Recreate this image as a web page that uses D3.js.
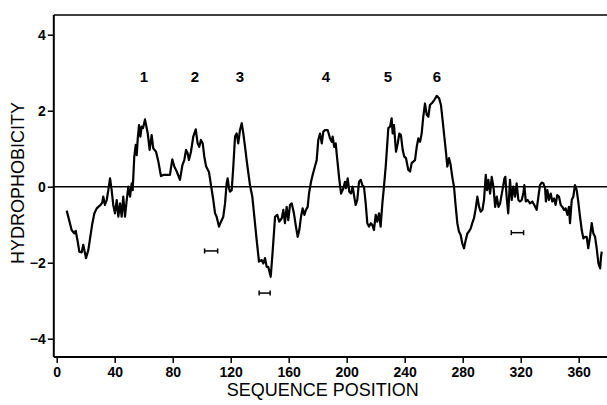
<!DOCTYPE html>
<html>
<head>
<meta charset="utf-8">
<script src="https://cdn.jsdelivr.net/npm/d3@7"></script>
<style>
  body { margin: 0; background: #fff; }
  text { font-family: "Liberation Sans", Arial, sans-serif; fill: #000; }
</style>
</head>
<body>
<div id="chart"></div>
<script>
(function() {
  var width = 607,
      height = 405;

  // sequence position and hydrophobicity
  var position = [6.9, 10.3, 12.1, 13.1, 14.5, 15.6, 17.2, 18.3, 20.2, 21.8, 24.6, 26, 27.6, 28.7, 30.3, 31.4, 32.1, 33.3, 34.5, 35.6,
    36.8, 37.9, 39, 40.2, 41.4, 42.5, 43.7, 44.8, 45.9, 47.1, 48.3, 49.4, 50.6, 51.7, 52.4, 53.5, 54.5, 55.2, 55.9, 56.8,
    57.7, 58.6, 59.5, 60.9, 62.8, 64.1, 65.5, 66.6, 68.5, 70.1, 71.9, 73.5, 75.9, 78.1, 79.7, 81.1, 82.8, 85, 86.7, 88,
    89.2, 90.3, 91.2, 92.6, 94.2, 95.9, 97.2, 98.3, 99.5, 100.7, 101.8, 103, 105, 106.4, 108, 109.2, 110.3, 111.9, 113.3, 114.9,
    116.1, 117.2, 117.9, 118.8, 119.5, 120.7, 121.8, 123, 124.1, 125.2, 126.4, 127.6, 128.7, 129.9, 131, 132.2, 133.3, 134.9, 136.3, 137.9,
    139.5, 141.4, 142.5, 143.7, 144.8, 145.9, 147.6, 149, 150.6, 152.1, 153.5, 155.2, 156.3, 157.4, 158.6, 159.7, 160.9, 162.1, 163.6, 165,
    166.2, 167.3, 168.5, 169.6, 170.8, 171.9, 173.1, 174, 175.4, 176.5, 178.1, 179.3, 180.4, 181.6, 182.8, 183.9, 185, 186.9, 188.5, 189.7,
    190.3, 191.4, 192.4, 193.3, 194.7, 196.1, 197.7, 198.8, 199.5, 200.7, 201.8, 203, 204.1, 205.2, 206.2, 207.3, 208.5, 209.7, 210.8, 211.9,
    213.1, 214.2, 215.4, 216.6, 217.7, 218.8, 220, 221.1, 222.3, 223.4, 224.6, 225.7, 226.9, 228, 228.7, 229.9, 231, 231.7, 232.6, 234,
    235.2, 236.3, 237.4, 238.6, 239.7, 240.9, 242.5, 243.7, 244.8, 245.9, 247.1, 248.3, 249.4, 250.6, 251.7, 252.8, 254, 255.2, 256.3, 257.4,
    259, 260.4, 262.1, 263.7, 265, 265.9, 267.1, 268.3, 269.4, 270.6, 271.7, 272.8, 274, 275.2, 276.3, 277.4, 278.6, 279.7, 280.9, 282.1,
    283.2, 284.3, 285.5, 286.6, 287.8, 289, 290.1, 291.3, 292.4, 293.6, 294.7, 295.9, 296.8, 297.7, 298.9, 300, 301.2, 302.4, 303.5, 304.7,
    305.8, 307.4, 308.8, 309.4, 310.3, 311.4, 312.6, 313.8, 314.9, 316.1, 317.2, 318.4, 319.5, 320.7, 321.8, 322.5, 323.5, 324.8, 326.4, 328,
    329.4, 331, 332.2, 333.3, 334.5, 335.6, 336.8, 337.4, 338.4, 339.5, 340.7, 341.8, 343, 344.1, 345.2, 346.4, 347.6, 348.7, 349.9, 351,
    352.2, 353.3, 354, 355.2, 356.3, 357.4, 358.6, 359.7, 360.9, 362.1, 363.2, 364.3, 365.5, 366.6, 367.8, 369, 370.1, 371.3, 372.4, 373.6,
    374.8, 375.4, 375.9];

  var hydro = [-0.63, -1.14, -1.23, -1.16, -1.45, -1.71, -1.73, -1.53, -1.88, -1.67, -0.96, -0.7, -0.57, -0.53, -0.48, -0.42, -0.26, -0.48, -0.35, -0.09,
    0.22, -0.09, -0.48, -0.7, -0.35, -0.79, -0.44, -0.79, -0.26, -0.79, -0.35, 0, -0.26, 0.09, -0.09, 0.79, 1.1, 0.83, 1.27, 1.62,
    1.32, 1.58, 1.54, 1.77, 1.4, 0.97, 1.36, 1.01, 0.92, 0.66, 0.28, 0.31, 0.31, 0.31, 0.72, 0.53, 0.4, 0.18, 0.57, 0.7,
    0.97, 0.88, 0.7, 0.92, 1.32, 1.51, 1.14, 1.05, 1.23, 1.14, 0.79, 0.54, 0.39, 0.04, -0.35, -0.7, -0.79, -1.05, -0.92, -0.79,
    -0.44, 0.09, 0.22, -0.04, -0.13, -0.09, 0.53, 1.32, 1.4, 1.14, 1.49, 1.67, 1.4, 1.05, 0.7, 0.35, 0.04, -0.26, -0.79, -1.4,
    -1.97, -1.93, -2.02, -1.88, -2.11, -2.11, -2.37, -1.67, -0.79, -0.74, -0.92, -0.83, -0.61, -0.96, -0.53, -0.88, -0.48, -0.44, -0.7, -1.05,
    -1.32, -1.14, -0.79, -0.57, -0.74, -0.61, -0.53, -0.18, 0.13, 0.31, 0.53, 0.7, 1.23, 1.4, 1.14, 1.45, 1.49, 1.49, 1.27, 1.18,
    1.32, 1.05, 1.14, 0.79, 0.26, -0.18, -0.04, 0.13, -0.04, 0.22, -0.13, -0.18, 0, -0.26, -0.48, -0.35, 0.13, 0.18, 0.04, 0,
    -0.44, -0.96, -1.05, -0.96, -1.01, -1.14, -0.74, -0.92, -0.7, -1.05, -0.44, 0, 0.53, 1.14, 1.54, 1.58, 1.8, 1.4, 1.62, 0.92,
    1.14, 1.4, 1.36, 0.97, 0.79, 0.75, 0.44, 0.4, 0.62, 0.66, 0.7, 1.05, 1.27, 1.18, 1.4, 1.84, 2.19, 1.89, 1.84, 2.15,
    2.21, 2.28, 2.39, 2.33, 2.15, 1.84, 1.4, 0.97, 0.53, 0.75, 0.57, 0.26, 0, -0.53, -0.96, -1.18, -1.27, -1.49, -1.62, -1.4,
    -1.23, -1.18, -1.1, -0.96, -0.83, -0.57, -0.26, -0.53, -0.66, -0.61, -0.35, 0.31, -0.09, 0.18, -0.18, 0.26, 0, -0.53, -0.26, -0.53,
    -0.44, -0.09, 0.22, 0.26, -0.26, -0.7, 0.18, -0.35, 0, -0.26, 0.09, -0.35, -0.39, -0.35, -0.18, 0.04, -0.39, -0.35, -0.44, -0.39,
    -0.48, -0.61, -0.26, 0.04, 0.11, 0.09, -0.04, -0.39, -0.09, -0.35, -0.18, -0.39, -0.31, -0.48, -0.22, -0.26, -0.48, -0.53, -0.61, -0.57,
    -0.74, -0.53, -0.96, -0.35, -0.26, 0.04, -0.09, -0.39, -0.79, -1.14, -1.36, -1.32, -1.32, -1.62, -1.32, -0.96, -1.23, -1.32, -1.62, -2.02,
    -2.15, -1.84, -1.71];

  // helix labels
  var helixNames = ["1", "2", "3", "4", "5", "6"];
  var helixPos = [60.2, 95.4, 126.4, 185.7, 228.5, 262.3];
  var helixY = 2.89;

  // small horizontal bars
  var barStart = [102, 139.6, 313.5];
  var barEnd = [111, 147.2, 322];
  var barY = [-1.69, -2.8, -1.21];

  var xTicks = [0, 40, 80, 120, 160, 200, 240, 280, 320, 360];
  var yTicks = [-4, -2, 0, 2, 4];

  var x = d3.scaleLinear().domain([0, 360]).range([56.7, 578.7]);
  var y = d3.scaleLinear().domain([0, 4]).range([186.7, 34.7]);

  var xLeft = x(-2),
      xRight = width,
      yTop = y(4.52),
      yBottom = y(-4.48);

  var svg = d3.select("#chart")
    .append("svg")
    .attr("width", width)
    .attr("height", height);

  // top frame line
  svg.append("line")
    .attr("x1", xLeft).attr("x2", xRight)
    .attr("y1", yTop).attr("y2", yTop)
    .attr("stroke", "#000").attr("stroke-width", 1.6);

  // zero line
  svg.append("line")
    .attr("x1", xLeft).attr("x2", xRight)
    .attr("y1", y(0)).attr("y2", y(0))
    .attr("stroke", "#000").attr("stroke-width", 1.6);

  var xAxis = svg.append("g")
    .attr("transform", "translate(0," + yBottom + ")")
    .call(d3.axisBottom(x).tickValues(xTicks).tickSizeOuter(0).tickSizeInner(6).tickPadding(4));
  xAxis.select(".domain").attr("d", "M" + xLeft + ",0H" + xRight).attr("stroke-width", 2);
  xAxis.selectAll(".tick line").attr("stroke-width", 1.5);
  xAxis.selectAll("text")
    .style("font-size", "14px").style("font-weight", "bold")
    .style("font-family", "Liberation Sans, Arial, sans-serif");

  var yAxis = svg.append("g")
    .attr("transform", "translate(" + xLeft + ",0)")
    .call(d3.axisLeft(y).tickValues(yTicks).tickSizeOuter(0).tickSizeInner(6).tickPadding(2)
      .tickFormat(function(d) { return d < 0 ? "\u2212" + Math.abs(d) : d; }));
  yAxis.select(".domain").attr("d", "M0," + yTop + "V" + yBottom).attr("stroke-width", 2);
  yAxis.selectAll(".tick line").attr("stroke-width", 1.5);
  yAxis.selectAll("text")
    .style("font-size", "14px").style("font-weight", "bold")
    .style("font-family", "Liberation Sans, Arial, sans-serif");

  // the trace
  var line = d3.line()
    .x(function(d) { return x(d[0]); })
    .y(function(d) { return y(d[1]); });

  svg.append("path")
    .datum(d3.zip(position, hydro))
    .attr("d", line)
    .attr("fill", "none")
    .attr("stroke", "#000")
    .attr("stroke-width", 2.2)
    .attr("stroke-linejoin", "round");

  // helix numbers
  svg.selectAll(".helix")
    .data(helixNames)
    .enter().append("text")
    .attr("class", "helix")
    .attr("x", function(d, i) { return x(helixPos[i]); })
    .attr("y", y(helixY))
    .attr("dy", "0.35em")
    .attr("text-anchor", "middle")
    .style("font-size", "15px")
    .style("font-weight", "bold")
    .text(function(d) { return d; });

  // bars
  var bars = svg.selectAll(".bar")
    .data(barY)
    .enter().append("g")
    .attr("class", "bar");
  bars.append("line")
    .attr("x1", function(d, i) { return x(barStart[i]); })
    .attr("x2", function(d, i) { return x(barEnd[i]); })
    .attr("y1", function(d) { return y(d); })
    .attr("y2", function(d) { return y(d); })
    .attr("stroke", "#000").attr("stroke-width", 1.5);
  bars.append("line")
    .attr("x1", function(d, i) { return x(barStart[i]); })
    .attr("x2", function(d, i) { return x(barStart[i]); })
    .attr("y1", function(d) { return y(d) - 2.5; })
    .attr("y2", function(d) { return y(d) + 2.5; })
    .attr("stroke", "#000").attr("stroke-width", 1.5);
  bars.append("line")
    .attr("x1", function(d, i) { return x(barEnd[i]); })
    .attr("x2", function(d, i) { return x(barEnd[i]); })
    .attr("y1", function(d) { return y(d) - 2.5; })
    .attr("y2", function(d) { return y(d) + 2.5; })
    .attr("stroke", "#000").attr("stroke-width", 1.5);

  // axis titles
  svg.append("text")
    .attr("x", x(183.5))
    .attr("y", 396)
    .attr("text-anchor", "middle")
    .style("font-size", "18px")
    .text("SEQUENCE POSITION");

  svg.append("text")
    .attr("transform", "translate(24," + y(0.1) + ") rotate(-90)")
    .attr("text-anchor", "middle")
    .style("font-size", "18px")
    .text("HYDROPHOBICITY");
})();
</script>
</body>
</html>
